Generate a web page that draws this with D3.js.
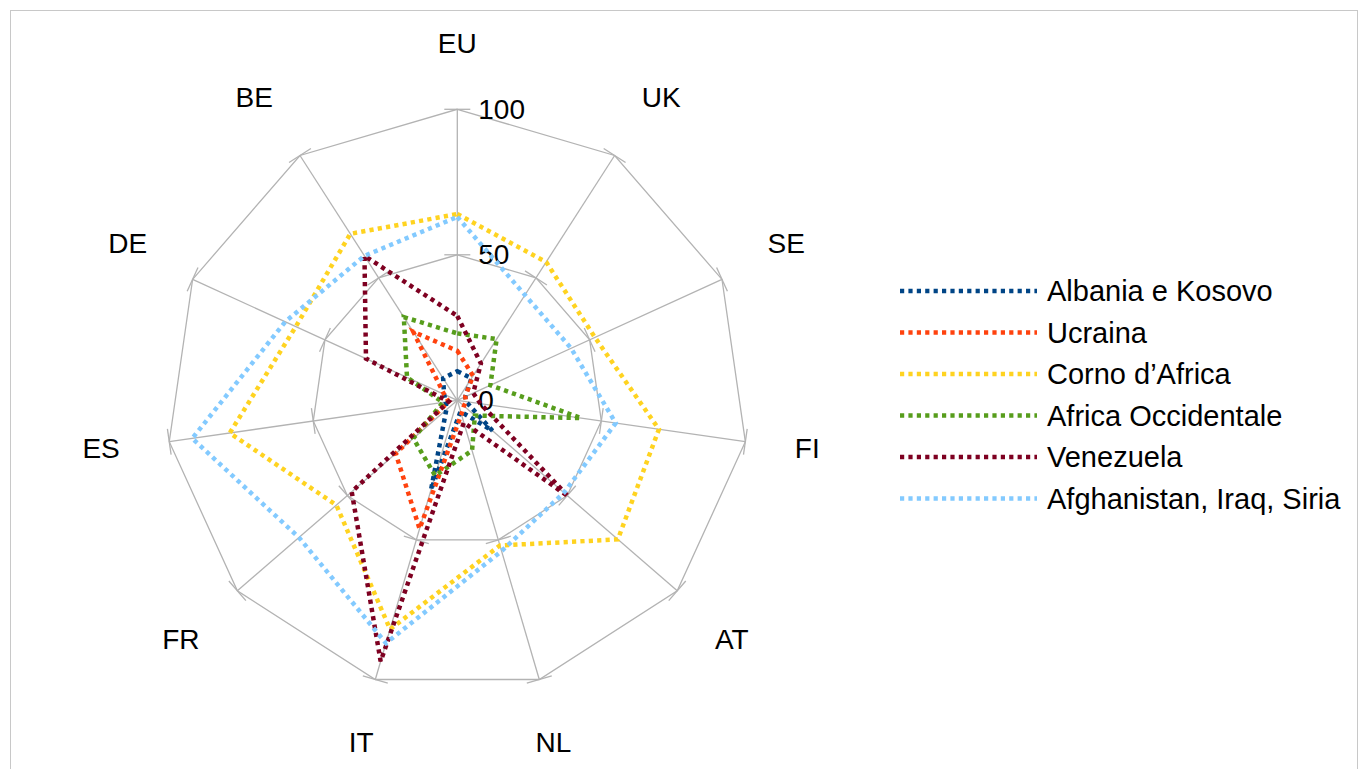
<!DOCTYPE html>
<html>
<head>
<meta charset="utf-8">
<script src="https://cdn.jsdelivr.net/npm/d3@7/dist/d3.min.js"></script>
<style>
html,body{margin:0;padding:0;background:#fff;}
svg{display:block;font-family:"Liberation Sans",Arial,sans-serif;}
</style>
</head>
<body>
<svg id="chart" width="1359" height="769"></svg>
<script>
const categories = ["EU","UK","SE","FI","AT","NL","IT","FR","ES","DE","BE"];
const seriesNames = ["Albania e Kosovo","Ucraina","Corno d\u2019Africa","Africa Occidentale","Venezuela","Afghanistan, Iraq, Siria"];
const albania    = [10, 9, 3, 3, 16, 4, 32, 5, 4, 5, 9];
const ucraina    = [17, 10, 3, 3, 3, 5, 46, 28, 3, 5, 28];
const corno      = [64, 56.5, 52, 70, 73, 52, 82, 55, 79, 61, 68];
const africaOcc  = [23, 25, 12.5, 43, 8, 18, 27, 20, 5, 19, 34];
const venezuela  = [29, 15, 6, 8, 50.5, 8, 93.5, 48, 3, 34.5, 59];
const afghan     = [63, 43, 43, 55, 48.5, 54, 87, 72, 92, 65, 59];
const seriesValues = [albania, ucraina, corno, africaOcc, venezuela, afghan];
const colors = ["#004586","#ff420e","#ffd320","#579d1c","#7e0021","#83caff"];
const tickValues = [0, 50, 100];
const tickLabels = ["0", "50", "100"];

const svg = d3.select("#chart");
const cx = 457.3, cy = 400.3, R = 291;
const r = d3.scaleLinear().domain([0, 100]).range([0, R]);
const angle = d3.scaleLinear().domain([0, categories.length]).range([0, 2 * Math.PI]);
const pt = (i, v) => [cx + Math.sin(angle(i)) * r(v), cy - Math.cos(angle(i)) * r(v)];

// frame
svg.append("rect").attr("x", 10.5).attr("y", 10.5).attr("width", 1347).attr("height", 770)
  .attr("fill", "none").attr("stroke", "#c8c8c8").attr("stroke-width", 1);

const grid = svg.append("g").attr("stroke", "#b3b3b3").attr("stroke-width", 1.3).attr("fill", "none");
categories.forEach((c, i) => {
  const [x, y] = pt(i, 100);
  grid.append("line").attr("x1", cx).attr("y1", cy).attr("x2", x).attr("y2", y);
});
tickValues.filter(t => t > 0).forEach(t => {
  const pts = categories.map((c, i) => pt(i, t));
  grid.append("path").attr("d", d3.line()(pts) + "Z");
  categories.forEach((c, i) => {
    const [x, y] = pt(i, t);
    const a = angle(i);
    const px = Math.cos(a), py = Math.sin(a);
    const L = 13;
    grid.append("line").attr("x1", x - px * L).attr("y1", y - py * L)
      .attr("x2", x + px * L).attr("y2", y + py * L);
  });
});

// tick labels
svg.append("g").selectAll("text").data(tickValues).join("text")
  .attr("x", cx + 21).attr("y", d => cy - r(d))
  .attr("dominant-baseline", "central")
  .attr("font-size", 28).attr("fill", "#000")
  .text((d, i) => tickLabels[i]);

// category labels (anchored by corner/edge depending on direction)
const LR = 341;
categories.forEach((c, i) => {
  const a = angle(i);
  const s = Math.sin(a), co = Math.cos(a);
  const [x, y] = pt(i, 100 * LR / R);
  const t = svg.append("text").attr("font-size", 28).attr("fill", "#000")
    .attr("text-anchor", "middle").attr("dominant-baseline", "central").text(c);
  const bb = t.node().getBBox();
  const dx = s > 0.4 ? bb.width / 2 : (s < -0.4 ? -bb.width / 2 : 0);
  const dy = co > 0.3 ? -bb.height / 2 : (co < -0.3 ? bb.height / 2 : 0);
  t.attr("x", x + dx).attr("y", y + dy);
});

// series
const line = d3.line();
seriesValues.forEach((vals, s) => {
  const pts = vals.map((v, i) => pt(i, v));
  svg.append("path").attr("d", line(pts) + "Z")
    .attr("fill", "none").attr("stroke", colors[s]).attr("stroke-width", 4.5)
    .attr("stroke-dasharray", "4.2 4.2").attr("stroke-linejoin", "miter");
});

// legend
const lg = svg.append("g");
seriesNames.forEach((n, i) => {
  const y = 291 + i * 41.5;
  lg.append("line").attr("x1", 900).attr("x2", 1037).attr("y1", y).attr("y2", y)
    .attr("stroke", colors[i]).attr("stroke-width", 4.5).attr("stroke-dasharray", "4.2 4.2");
  lg.append("text").attr("x", 1047).attr("y", y).attr("dominant-baseline", "central")
    .attr("font-size", 29).attr("fill", "#000").text(n);
});
</script>
</body>
</html>
